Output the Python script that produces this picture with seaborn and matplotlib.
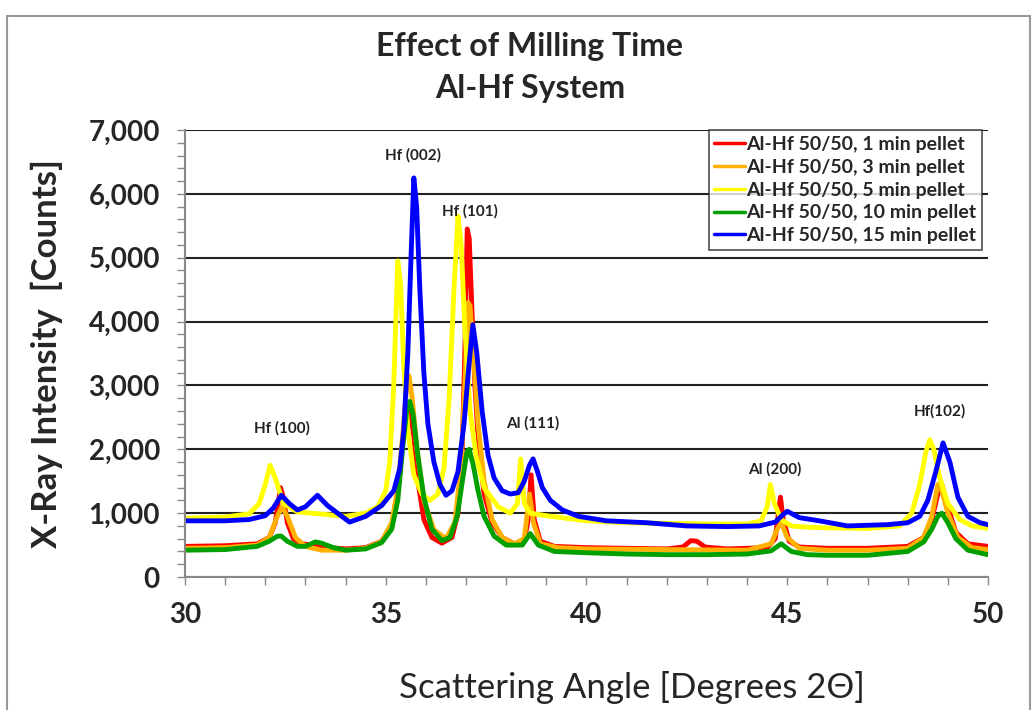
import numpy as np
import pandas as pd
import matplotlib
matplotlib.use("Agg")
import matplotlib.pyplot as plt
from matplotlib.patches import Rectangle
from matplotlib.ticker import MultipleLocator, FuncFormatter
import seaborn as sns

# 2-theta positions / counts, one pair of lists per sample
X_1MIN = [30.0, 31.0, 31.8, 32.1, 32.25, 32.38, 32.45, 32.55, 32.7, 32.9, 33.2, 33.6, 34.0, 34.5, 34.9,
          35.15, 35.3, 35.42, 35.52, 35.6, 35.7, 35.8, 35.95, 36.15, 36.4, 36.65, 36.8, 36.9, 36.97,
          37.03, 37.08, 37.14, 37.22, 37.32, 37.45, 37.65, 37.9, 38.2, 38.45, 38.55, 38.62, 38.7,
          38.85, 39.2, 40.0, 41.0, 42.0, 42.4, 42.6, 42.75, 42.95, 43.5, 44.5, 44.7, 44.78, 44.83,
          44.9, 45.05, 45.3, 46.0, 47.0, 48.0, 48.4, 48.6, 48.75, 48.85, 49.0, 49.2, 49.5, 50.0]
Y_1MIN = [480, 490, 520, 620, 850, 1400, 1250, 850, 600, 520, 500, 460, 440, 460, 560,
          800, 1300, 2100, 2600, 2650, 2200, 1500, 900, 620, 530, 620, 1000, 1900, 3500,
          5450, 5300, 4300, 3000, 2000, 1300, 850, 620, 520, 560, 900, 1600, 900,
          560, 480, 460, 450, 440, 470, 570, 560, 470, 440, 460, 600, 1000, 1250,
          900, 560, 470, 450, 450, 480, 620, 900, 1300, 1450, 1100, 700, 520, 480]

X_3MIN = [30.0, 31.0, 31.8, 32.1, 32.3, 32.42, 32.55, 32.75, 33.0, 33.4, 34.0, 34.5, 34.9, 35.15,
          35.3, 35.42, 35.52, 35.58, 35.66, 35.78, 35.95, 36.2, 36.5, 36.72, 36.87, 36.97, 37.05,
          37.1, 37.18, 37.3, 37.45, 37.65, 37.9, 38.2, 38.45, 38.58, 38.68, 38.85, 39.3, 40.0, 42.0,
          44.0, 44.6, 44.75, 44.85, 45.0, 45.3, 46.0, 47.0, 48.0, 48.4, 48.6, 48.75, 48.85, 49.0,
          49.25, 49.6, 50.0]
Y_3MIN = [450, 460, 500, 620, 950, 1100, 950, 620, 480, 420, 420, 450, 560, 850,
          1400, 2200, 3000, 3150, 2800, 2000, 1200, 740, 600, 850, 1700, 3000, 4300,
          4250, 3500, 2400, 1500, 900, 620, 520, 600, 1300, 850, 520, 460, 440, 430,
          420, 520, 750, 850, 620, 450, 420, 420, 450, 620, 950, 1450, 1350, 1000,
          620, 460, 430]

X_5MIN = [30.0, 31.0, 31.6, 31.85, 32.0, 32.12, 32.25, 32.45, 32.8, 33.5, 34.0, 34.5, 34.8, 35.0,
          35.1, 35.2, 35.3, 35.37, 35.45, 35.55, 35.7, 35.9, 36.1, 36.3, 36.45, 36.58, 36.7, 36.8,
          36.88, 36.97, 37.1, 37.25, 37.45, 37.8, 38.1, 38.28, 38.36, 38.45, 38.6, 39.0, 39.5, 40.0,
          41.0, 42.0, 43.0, 44.0, 44.35, 44.5, 44.58, 44.68, 44.85, 45.1, 45.5, 46.0, 47.0, 47.8,
          48.1, 48.3, 48.45, 48.55, 48.65, 48.8, 49.0, 49.3, 49.6, 50.0]
Y_5MIN = [920, 940, 990, 1150, 1450, 1750, 1550, 1150, 1020, 980, 950, 1000, 1100, 1350,
          1800, 3000, 4950, 4600, 3300, 2300, 1600, 1300, 1200, 1300, 1700, 2800, 4500, 5650,
          5200, 3900, 2600, 1900, 1400, 1100, 1000, 1150, 1850, 1150, 1000, 960, 920, 880,
          850, 840, 830, 830, 880, 1100, 1450, 1150, 900, 800, 780, 770, 760, 800,
          1000, 1450, 1950, 2150, 2000, 1550, 1150, 900, 800, 760]

X_10MIN = [30.0, 31.0, 31.8, 32.1, 32.3, 32.4, 32.55, 32.8, 33.0, 33.25, 33.4, 33.7, 34.0, 34.5,
           34.9, 35.15, 35.3, 35.42, 35.52, 35.6, 35.68, 35.8, 35.95, 36.15, 36.4, 36.6, 36.78, 36.92,
           37.02, 37.08, 37.18, 37.3, 37.45, 37.7, 38.0, 38.4, 38.6, 38.8, 39.2, 40.0, 41.0, 42.0,
           43.0, 44.0, 44.6, 44.85, 45.1, 45.5, 46.0, 47.0, 48.0, 48.4, 48.6, 48.75, 48.85, 49.0,
           49.2, 49.5, 50.0]
Y_10MIN = [420, 430, 480, 560, 640, 640, 560, 480, 480, 550, 530, 460, 420, 440,
           540, 750, 1200, 2000, 2600, 2750, 2550, 1900, 1250, 750, 570, 620, 950, 1550,
           1950, 2000, 1750, 1350, 950, 640, 500, 500, 680, 500, 400, 380, 360, 350,
           350, 360, 410, 520, 400, 350, 340, 340, 400, 550, 750, 950, 1000, 850,
           600, 420, 350]

X_15MIN = [30.0, 31.0, 31.6, 32.0, 32.2, 32.4, 32.6, 32.8, 33.0, 33.3, 33.55, 33.8, 34.1, 34.5,
           34.9, 35.2, 35.35, 35.45, 35.55, 35.63, 35.7, 35.77, 35.85, 35.95, 36.05, 36.2, 36.35,
           36.5, 36.65, 36.8, 36.95, 37.07, 37.17, 37.27, 37.4, 37.55, 37.7, 37.9, 38.1, 38.3, 38.45,
           38.58, 38.67, 38.78, 38.9, 39.1, 39.4, 39.8, 40.5, 41.5, 42.5, 43.5, 44.3, 44.7, 44.9,
           45.0, 45.3, 45.8, 46.5, 47.5, 48.0, 48.3, 48.5, 48.7, 48.88, 49.05, 49.25, 49.5, 49.8, 50.0]
Y_15MIN = [880, 880, 900, 960, 1080, 1280, 1150, 1050, 1100, 1280, 1120, 1000, 860, 950,
           1120, 1350, 1700, 2300, 3500, 5000, 6250, 5800, 4500, 3200, 2400, 1800, 1450,
           1280, 1350, 1650, 2400, 3300, 3950, 3500, 2600, 1900, 1550, 1350, 1300, 1320, 1500,
           1750, 1850, 1650, 1400, 1200, 1050, 950, 880, 850, 800, 790, 800, 860, 980,
           1030, 930, 880, 800, 820, 850, 950, 1200, 1650, 2100, 1800, 1250, 950, 850, 820]

LABELS = ["Al-Hf 50/50, 1 min pellet", "Al-Hf 50/50, 3 min pellet", "Al-Hf 50/50, 5 min pellet",
          "Al-Hf 50/50, 10 min pellet", "Al-Hf 50/50, 15 min pellet"]
COLORS = ["#ff0000", "#ffb000", "#ffff00", "#00a000", "#0000ff"]

PEAK_NAMES = ["Hf (100)", "Hf (002)", "Hf (101)", "Al (111)", "Al (200)", "Hf(102)"]
PEAK_X = [32.42, 35.68, 37.1, 38.67, 44.7, 48.8]
PEAK_Y = [2330, 6610, 5720, 2410, 1680, 2590]

series = [(X_1MIN, Y_1MIN), (X_3MIN, Y_3MIN), (X_5MIN, Y_5MIN), (X_10MIN, Y_10MIN), (X_15MIN, Y_15MIN)]

sns.set_style("white")
plt.rcParams['font.family'] = ['Lato', 'DejaVu Sans']

fig = plt.figure(figsize=(10.35, 7.1), dpi=100)
ax = fig.add_axes([0.1787, 0.1873, 0.9546 - 0.1787, 0.8169 - 0.1873])

for (xs, ys), lab, col in zip(series, LABELS, COLORS):
    sns.lineplot(x=xs, y=ys, ax=ax, color=col, lw=3.5, label=lab, sort=False)

ax.set_xlim(30, 50)
ax.set_ylim(0, 7000)
ax.xaxis.set_major_locator(MultipleLocator(5))
ax.xaxis.set_minor_locator(MultipleLocator(1))
ax.yaxis.set_major_locator(MultipleLocator(1000))
ax.yaxis.set_minor_locator(MultipleLocator(200))
ax.yaxis.set_major_formatter(FuncFormatter(lambda v, p: f"{int(v):,}"))
ax.tick_params(axis='both', which='both', direction='out', length=6, color='#888888', width=1,
               bottom=True, left=True)
ax.tick_params(axis='y', labelsize=20, pad=12)
ax.tick_params(axis='x', labelsize=20, pad=12)
for t in ax.get_xticklabels() + ax.get_yticklabels():
    t.set_fontweight('bold')

ax.grid(axis='y', which='major', color='#222222', lw=1.5)
ax.set_axisbelow(True)
for s in ['top', 'right']:
    ax.spines[s].set_visible(False)
for s in ['left', 'bottom']:
    ax.spines[s].set_color('#888888')
    ax.spines[s].set_linewidth(1.5)

ax.set_xlabel("Scattering Angle [Degrees 2Θ]", fontsize=25)
ax.xaxis.set_label_coords(0.557, -0.248)
ax.xaxis.label.set_va('center')
ax.set_ylabel("X-Ray Intensity  [Counts]", fontsize=25, fontweight='bold', labelpad=18)

for name, px, py in zip(PEAK_NAMES, PEAK_X, PEAK_Y):
    ax.text(px, py, name, ha='center', va='center', fontsize=11, fontweight='bold', color='#222222')

leg = ax.legend(loc='upper right', bbox_to_anchor=(0.993, 1.0), frameon=True, fancybox=False,
                edgecolor='#222222', prop={'weight': 'bold', 'size': 14}, handlelength=1.6,
                handletextpad=0.05, borderpad=0.3, labelspacing=0.3, borderaxespad=0)
leg.get_frame().set_linewidth(1.2)
for h in leg.get_lines():
    h.set_linewidth(2.5)

fig.text(0.512, 0.934, "Effect of Milling Time", ha='center', va='center', fontsize=23, fontweight='bold')
fig.text(0.512, 0.876, "Al-Hf System", ha='center', va='center', fontsize=23, fontweight='bold')

fig.patches.append(Rectangle((0.007, -0.05), 0.988, 1.028, transform=fig.transFigure,
                             fill=False, edgecolor='#999999', lw=1.5))

fig.savefig("out.png", dpi=100)
